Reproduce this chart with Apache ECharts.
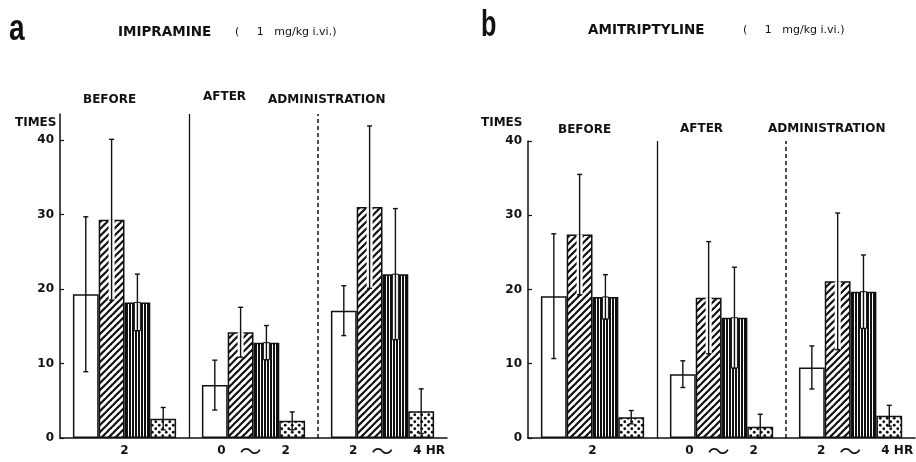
<!DOCTYPE html>
<html>
<head>
<meta charset="utf-8">
<script src="https://cdn.jsdelivr.net/npm/echarts@6/dist/echarts.min.js"></script>
<style>
  html, body { margin: 0; padding: 0; background: #fff; }
  #chart { width: 916px; height: 462px; }
</style>
</head>
<body>
<div id="chart"></div>
<script>
// Time periods (hours) on the x axis
const periods = ['2', '0 〜 2', '2 〜 4 HR'];
const yTicks = [0, 10, 20, 30, 40];

// Imipramine (1 mg/kg i.v.) — mean counts per period, one array per bar type
const imiOpen    = [19.3, 7.1, 17.1];
const imiDiag    = [29.3, 14.2, 31.0];
const imiVert    = [18.2, 12.8, 22.0];
const imiDots    = [2.6, 2.3, 3.6];
// Imipramine — error half-widths
const imiOpenErr = [10.4, 3.35, 3.35];
const imiDiagErr = [10.8, 3.35, 10.9];
const imiVertErr = [3.8, 2.3, 8.8];
const imiDotsErr = [1.5, 1.2, 3.0];

// Amitriptyline (1 mg/kg i.v.)
const amiOpen    = [19.1, 8.6, 9.5];
const amiDiag    = [27.4, 18.9, 21.1];
const amiVert    = [19.0, 16.2, 19.7];
const amiDots    = [2.8, 1.5, 3.0];
const amiOpenErr = [8.4, 1.8, 2.9];
const amiDiagErr = [8.1, 7.55, 9.2];
const amiVertErr = [3.0, 6.8, 4.95];
const amiDotsErr = [0.9, 1.7, 1.4];

const INK = '#111';
const FONT = '"DejaVu Sans", "Liberation Sans", sans-serif';

// ---- fill patterns ----
function makeCanvas(w, h) {
  const c = document.createElement('canvas');
  c.width = w; c.height = h;
  const ctx = c.getContext('2d');
  ctx.fillStyle = '#fff';
  ctx.fillRect(0, 0, w, h);
  return [c, ctx];
}
function diagPattern() {
  const s = 7;
  const [c, ctx] = makeCanvas(s, s);
  ctx.strokeStyle = INK;
  ctx.lineWidth = 2.2;
  for (const k of [-s, 0, s]) {
    ctx.beginPath();
    ctx.moveTo(k - 1, s + 1);
    ctx.lineTo(k + s + 1, -1);
    ctx.stroke();
  }
  return c;
}
function vertPattern() {
  const [c, ctx] = makeCanvas(3, 4);
  ctx.fillStyle = INK;
  ctx.fillRect(0, 0, 2, 4);
  return c;
}
function dotPattern() {
  const [c, ctx] = makeCanvas(7, 7);
  ctx.fillStyle = INK;
  for (const [x, y] of [[1.75, 1.75], [5.25, 5.25]]) {
    ctx.beginPath();
    ctx.arc(x, y, 1.4, 0, Math.PI * 2);
    ctx.fill();
  }
  return c;
}
const fills = [
  '#fff',
  { image: diagPattern(), repeat: 'repeat' },
  { image: vertPattern(), repeat: 'repeat' },
  { image: dotPattern(), repeat: 'repeat' }
];

const panels = [
  { means: [imiOpen, imiDiag, imiVert, imiDots], errs: [imiOpenErr, imiDiagErr, imiVertErr, imiDotsErr], yMax: 43.5 },
  { means: [amiOpen, amiDiag, amiVert, amiDots], errs: [amiOpenErr, amiDiagErr, amiVertErr, amiDotsErr], yMax: 40 }
];

const BAR_FRAC = 0.2;

// Error bars: vertical line with caps; inside hatched bars the lower half sits on a white strip
function errorRender(params, api) {
  const c = api.value(0), s = api.value(1), m = api.value(2), e = api.value(3);
  const bw = api.size([1, 0])[0] * BAR_FRAC;
  const cx = api.coord([c, 0])[0] + (s - 1.5) * bw;
  const yHi = api.coord([c, m + e])[1];
  const yLo = api.coord([c, Math.max(0, m - e)])[1];
  const yM = api.coord([c, m])[1];
  const children = [];
  if (s === 1 || s === 2) {
    children.push({
      type: 'rect',
      shape: { x: cx - 3, y: yM, width: 6, height: yLo - yM },
      style: { fill: '#fff', stroke: s === 2 ? INK : null, lineWidth: 1 }
    });
  }
  const ls = { stroke: INK, lineWidth: 1.4 };
  children.push({ type: 'line', shape: { x1: cx, y1: yHi, x2: cx, y2: yLo }, style: ls });
  children.push({ type: 'line', shape: { x1: cx - 2.5, y1: yHi, x2: cx + 2.5, y2: yHi }, style: ls });
  children.push({ type: 'line', shape: { x1: cx - 2.5, y1: yLo, x2: cx + 2.5, y2: yLo }, style: ls });
  return { type: 'group', children };
}

function periodLabel(value) {
  const parts = value.split(' 〜 ');
  if (parts.length === 1) return '{n|' + value + '}';
  const end = parts[1].split(' ');
  if (end.length === 1) return '{n|' + parts[0] + '}{w|〜}{n|' + end[0] + '}';
  return '{g| }{n|' + parts[0] + '}{w|〜}{n|' + end[0] + '}{n| ' + end.slice(1).join(' ') + '}';
}
const labelRich = {
  n: { fontFamily: FONT, fontWeight: 'bold', fontSize: 12, color: INK, lineHeight: 14, verticalAlign: 'middle' },
  w: { fontFamily: '"Noto Sans CJK JP"', fontSize: 22, color: INK, lineHeight: 14, padding: [0, 20, 0, 14], verticalAlign: 'middle' },
  g: { width: 29, lineHeight: 14 }
};

const grids = [
  { left: 60, top: 114, width: 387, height: 329 },
  { left: 528, top: 141, width: 388, height: 302 }
];

const xAxes = [], yAxes = [], series = [];
panels.forEach((p, g) => {
  xAxes.push({
    type: 'category', gridIndex: g, data: periods,
    axisLine: { lineStyle: { color: INK, width: 1.5 } },
    axisTick: { show: false },
    axisLabel: { interval: 0, hideOverlap: false, margin: 6, formatter: periodLabel, rich: labelRich }
  });
  yAxes.push({
    type: 'value', gridIndex: g, min: 0, max: p.yMax, interval: 10,
    axisLine: { show: true, lineStyle: { color: INK, width: 1.5 } },
    axisTick: { show: true, inside: true, length: 4, lineStyle: { color: INK, width: 1.2 }, customValues: yTicks },
    axisLabel: { customValues: yTicks, margin: 6, fontFamily: FONT, fontWeight: 'bold', fontSize: 12, color: INK },
    splitLine: { show: false }
  });
  p.means.forEach((vals, s) => {
    series.push({
      type: 'bar', xAxisIndex: g, yAxisIndex: g, data: vals,
      barWidth: (BAR_FRAC * 100) + '%', barGap: '0%',
      itemStyle: { color: fills[s], borderColor: INK, borderWidth: 1.5 },
      silent: true, animation: false
    });
  });
  const errData = [];
  p.means.forEach((vals, s) => vals.forEach((m, c) => errData.push([c, s, m, p.errs[s][c]])));
  series.push({
    type: 'custom', xAxisIndex: g, yAxisIndex: g, data: errData,
    encode: { x: 0, y: 2 }, renderItem: errorRender, z: 5, silent: true, animation: false
  });
});

// hidden value axes for the period dividers
panels.forEach((p, g) => {
  xAxes.push({ type: 'value', gridIndex: g, min: 0, max: 3, show: false });
  series.push({
    type: 'line', xAxisIndex: 2 + g, yAxisIndex: g, data: [], silent: true, animation: false,
    markLine: {
      silent: true, symbol: 'none', label: { show: false }, animation: false,
      data: [
        { xAxis: 1, lineStyle: { type: 'solid', color: INK, width: 1.3 } },
        { xAxis: 2, lineStyle: { type: [4, 3], color: INK, width: 1.5 } }
      ]
    }
  });
});

function txt(text, x, y, font, align) {
  return {
    type: 'text', silent: true,
    style: { text, x, y, font, fill: INK, textAlign: align || 'left', align: align || 'left', textVerticalAlign: 'middle', verticalAlign: 'middle' }
  };
}
// panel letters, slightly condensed
function letter(text, x, y, sx) {
  return {
    type: 'text', silent: true, x, y, scaleX: sx,
    style: { text, x: 0, y: 0, font: 'bold 36px "Liberation Sans", sans-serif', fill: INK, textVerticalAlign: 'middle', verticalAlign: 'middle' }
  };
}
const hdr = 'bold 12px ' + FONT;
const ttl = 'bold 13.5px ' + FONT;
const sub = '11px ' + FONT;

const chart = echarts.init(document.getElementById('chart'), null, { renderer: 'canvas' });
chart.setOption({
  animation: false,
  backgroundColor: '#fff',
  grid: grids,
  xAxis: xAxes,
  yAxis: yAxes,
  series: series,
  graphic: [
    letter('a', 9, 30, 0.78),
    txt('IMIPRAMINE', 118, 32, ttl),
    txt('(     1   mg/kg i.vi.)', 235, 32, sub),
    txt('BEFORE', 83, 100, hdr),
    txt('AFTER', 203, 97, hdr),
    txt('ADMINISTRATION', 268, 100, hdr),
    txt('TIMES', 15, 123, hdr),
    letter('b', 481, 26, 0.7),
    txt('AMITRIPTYLINE', 588, 30, ttl),
    txt('(     1   mg/kg i.vi.)', 743, 30, sub),
    txt('TIMES', 481, 123, hdr),
    txt('BEFORE', 558, 130, hdr),
    txt('AFTER', 680, 129, hdr),
    txt('ADMINISTRATION', 768, 129, hdr)
  ]
});
</script>
</body>
</html>
